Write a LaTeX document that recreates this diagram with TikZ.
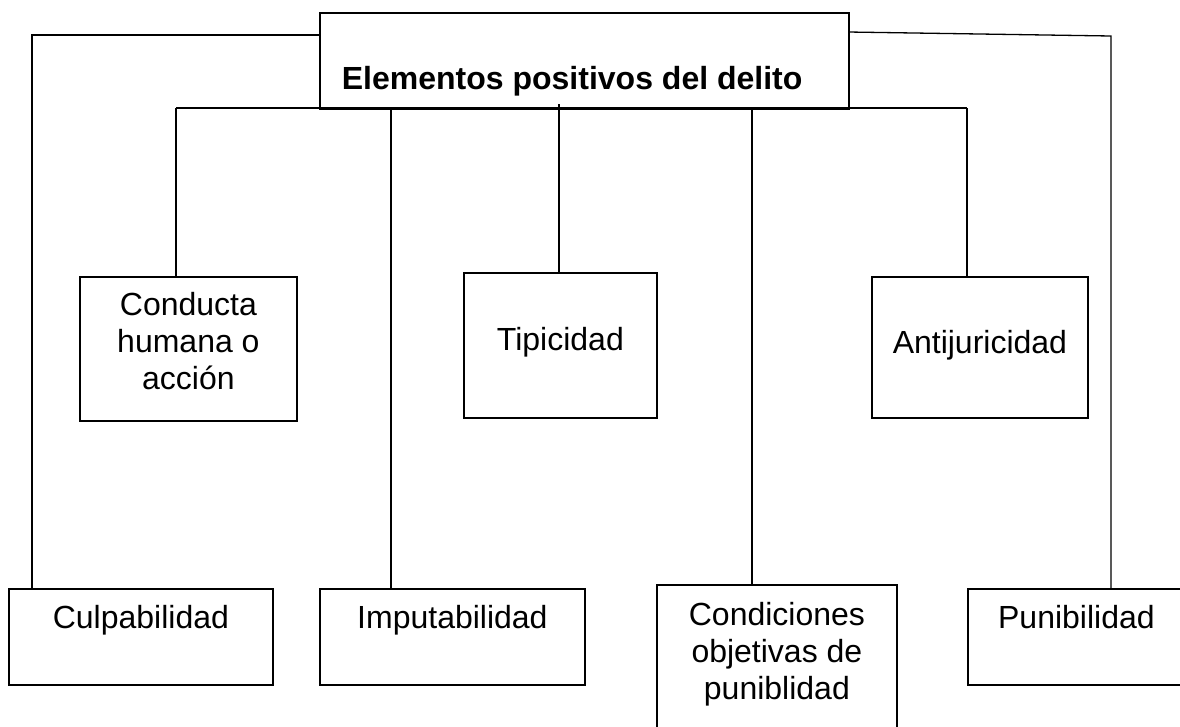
\documentclass[tikz,border=0pt]{standalone}
\usepackage{fontspec}
\setmainfont{Liberation Sans}
\newcommand\bxtext[4]{\parbox[t][#2][t]{#1}{\fontsize{32}{36.8}\selectfont\centering\rule{0pt}{#3}#4}}
\begin{document}
\begin{tikzpicture}[x=1pt,y=-1pt,
  elbox/.style={draw, line width=1.8pt, inner sep=0pt, anchor=north west},
  conn/.style={line width=1.3pt}]
\clip (0,0) rectangle (1180,726);
\fill[white] (0,0) rectangle (1180,726);
% boxes
\node[elbox] (top) at (319,12) {\parbox[t][96pt][t]{529pt}{\fontsize{32}{36.8}\selectfont\raggedright\rule{0pt}{77pt}\hspace*{22pt}\bfseries Elementos positivos del delito}};
\node[elbox] (conducta) at (79,276) {\bxtext{217pt}{144pt}{39pt}{Conducta\\humana o\\acción}};
\node[elbox] (tipi) at (463,272) {\bxtext{193pt}{145pt}{78pt}{Tipicidad}};
\node[elbox] (anti) at (871,276) {\bxtext{216pt}{141pt}{77pt}{Antijuricidad}};
\node[elbox] (culp) at (8,588) {\bxtext{264pt}{96pt}{40pt}{Culpabilidad}};
\node[elbox] (imput) at (319,588) {\bxtext{265pt}{96pt}{40pt}{Imputabilidad}};
\node[elbox] (condic) at (656,584) {\bxtext{240pt}{170pt}{41pt}{Condiciones\\objetivas de\\puniblidad}};
\node[elbox] (puni) at (967,588) {\bxtext{217pt}{96pt}{40pt}{Punibilidad}};
% connector points
\coordinate (lA) at (319,35);
\coordinate (lB) at (32,35);
\coordinate (rA) at (848,32);
\coordinate (rB) at (1111,36);
\coordinate (hL) at (176,108);
\coordinate (hR) at (967,108);
\coordinate (hI) at (391,108);
\coordinate (hT) at (559,104);
\coordinate (hC) at (752,108);
% connectors
\draw[conn] (lA) -- (lB) -- (lB |- culp.north);
\draw[conn] (rA) -- (rB) -- (rB |- puni.north);
\draw[conn] (hL) -- (hR);
\draw[conn] (hL) -- (hL |- conducta.north);
\draw[conn] (hI) -- (hI |- imput.north);
\draw[conn] (hT) -- (hT |- tipi.north);
\draw[conn] (hC) -- (hC |- condic.north);
\draw[conn] (hR) -- (hR |- anti.north);
\end{tikzpicture}
\end{document}
